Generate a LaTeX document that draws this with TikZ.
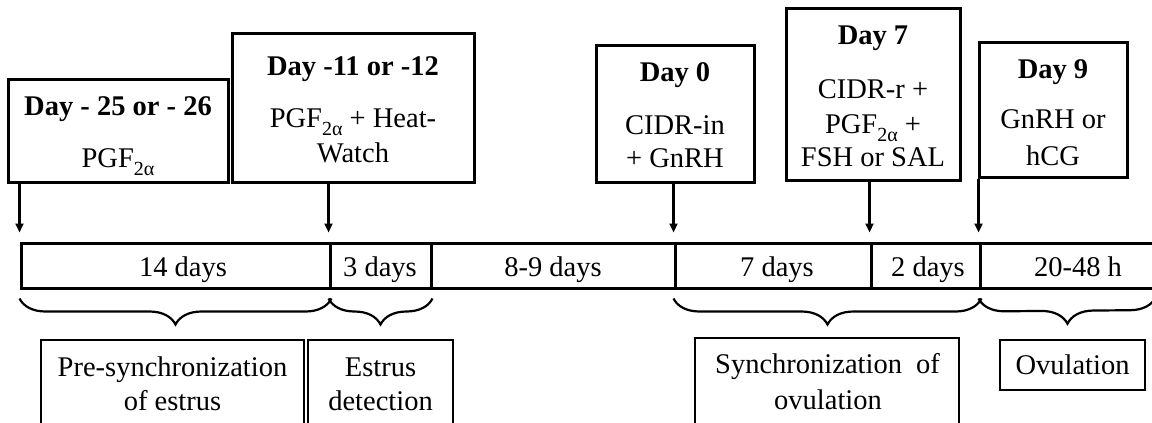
\documentclass[tikz,border=0pt]{standalone}
\usepackage{fontspec}
\setmainfont{Liberation Serif}
\usetikzlibrary{arrows.meta,decorations.pathreplacing}
\newcommand{\subtwoalpha}{\raisebox{-8pt}{\fontsize{20}{20}\selectfont 2α}}
\begin{document}
\begin{tikzpicture}[x=1pt,y=-1pt,
  box/.style={draw, line width=3pt, inner sep=0pt},
  bbox/.style={draw, line width=2.6pt, inner sep=0pt},
  seg/.style={draw, line width=3pt, inner sep=0pt, minimum height=45pt},
  lbl/.style={anchor=base, inner sep=0pt, font=\fontsize{28.5}{34}\selectfont},
  ttl/.style={anchor=base, inner sep=0pt, font=\fontsize{28.5}{34}\selectfont\bfseries},
  arr/.style={line width=2.2pt, -{Triangle[length=9pt,width=8pt]}, shorten >=9pt},
  brc/.style={line width=2.2pt, decorate, decoration={brace, mirror, amplitude=26pt}},
]
\useasboundingbox (0,0) rectangle (1152,423);

% top boxes
\node[box, minimum width=220pt, minimum height=103pt] (b1) at (118,130.5) {};
\node[box, minimum width=242pt, minimum height=149pt] (b2) at (353,107.5) {};
\node[box, minimum width=158pt, minimum height=137pt] (b3) at (675,113.5) {};
\node[box, minimum width=174pt, minimum height=172pt] (b4) at (873,94) {};
\node[box, minimum width=148pt, minimum height=135pt] (b5) at (1053,109.5) {};

\node[ttl] (t1a) at (118,115) {Day - 25 or - 26};
\node[lbl] (t1b) at (118,167) {PGF\subtwoalpha};

\node[ttl] (t2a) at (353,75) {Day -11 or -12};
\node[lbl] (t2b) at (353,127) {PGF\subtwoalpha{} + Heat-};
\node[lbl] (t2c) at (353,162) {Watch};

\node[ttl] (t3a) at (675,81) {Day 0};
\node[lbl] (t3b) at (675,134) {CIDR-in};
\node[lbl] (t3c) at (675,167) {+ GnRH};

\node[ttl] (t4a) at (873,45) {Day 7};
\node[lbl] (t4b) at (873,98) {CIDR-r +};
\node[lbl] (t4c) at (873,133) {PGF\subtwoalpha{} +};
\node[lbl] (t4d) at (873,166) {FSH or SAL};

\node[ttl] (t5a) at (1053,78) {Day 9};
\node[lbl] (t5b) at (1053,128) {GnRH or};
\node[lbl] (t5c) at (1053,165) {hCG};

% timeline
\node[seg, minimum width=309pt] (s1) at (175.5,265.5) {};
\node[seg, minimum width=101pt] (s2) at (380.5,265.5) {};
\node[seg, minimum width=244pt] (s3) at (553,265.5) {};
\node[seg, minimum width=196pt] (s4) at (773,265.5) {};
\node[seg, minimum width=109pt] (s5) at (925.5,265.5) {};
\node[seg, minimum width=196pt] (s6) at (1078,265.5) {};

\node[lbl] (l1) at (183,276) {14 days};
\node[lbl] (l2) at (380,276) {3 days};
\node[lbl] (l3) at (553,276) {8-9 days};
\node[lbl] (l4) at (777,276) {7 days};
\node[lbl] (l5) at (928,276) {2 days};
\node[lbl] (l6) at (1078,276) {20-48 h};

% arrows
\draw[arr] (b1.south -| s1.north west) -- (s1.north west);
\draw[arr] (b2.south -| s2.north west) -- (s2.north west);
\draw[arr] (b3.south -| s4.north west) -- (s4.north west);
\draw[arr] (b4.south -| s5.north west) -- (s5.north west);
\draw[arr] (b5.south -| s6.north west) -- (s6.north west);

% braces
\coordinate (e4) at (1156,297);
\draw[brc] ([yshift=-9pt]s1.south west) -- ([yshift=-9pt]s1.south east);
\draw[brc] ([yshift=-9pt]s2.south west) -- ([yshift=-9pt]s2.south east);
\draw[brc] ([yshift=-9pt]s4.south west) -- ([yshift=-9pt]s5.south east);
\draw[brc] ([yshift=-9pt]s6.south west) -- (e4);

% bottom boxes
\node[bbox, minimum width=263pt, minimum height=100pt] (p1) at (172.5,390) {};
\node[bbox, minimum width=145pt, minimum height=100pt] (p2) at (380.5,390) {};
\node[bbox, minimum width=264pt, minimum height=100pt] (p3) at (827,388) {};
\node[bbox, minimum width=145pt, minimum height=50pt] (p4) at (1072.5,365) {};

\node[lbl] (q1a) at (172.5,376) {Pre-synchronization};
\node[lbl] (q1b) at (172.5,410) {of estrus};
\node[lbl] (q2a) at (380.5,376) {Estrus};
\node[lbl] (q2b) at (380.5,410) {detection};
\node[lbl] (q3a) at (827.5,373) {Synchronization\hspace{14pt}of};
\node[lbl] (q3b) at (828,409) {ovulation};
\node[lbl] (q4a) at (1072.5,374) {Ovulation};
\end{tikzpicture}
\end{document}
